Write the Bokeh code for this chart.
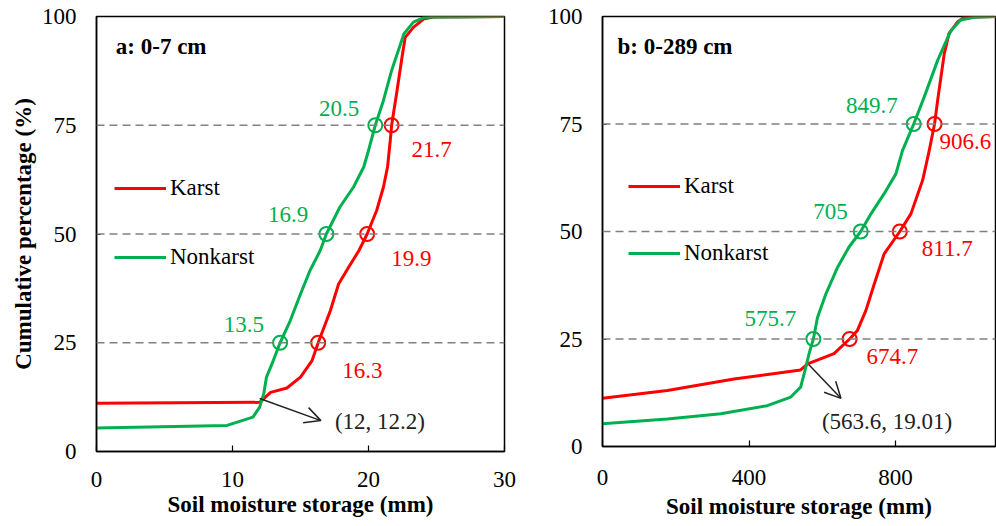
import numpy as np
from bokeh.plotting import figure
from bokeh.layouts import row
from bokeh.models import (ColumnDataSource, Legend, LegendItem, Arrow, OpenHead,
                          FixedTicker, Span, Label, Title)
from bokeh.embed import file_html
from bokeh.resources import INLINE
from bokeh.core.properties import value

# ---------------- data ----------------
# Panel a: 0-7 cm
a_karst_x = [0, 12.0, 12.8, 14.0, 15.0, 15.85, 16.3, 17.2, 17.8, 18.55, 19.3, 19.9, 20.6,
             21.1, 21.4, 21.6, 21.7, 22.1, 22.5, 22.7, 23.3, 24.1, 24.8, 30]
a_karst_y = [11.1, 11.3, 13.6, 14.6, 17.1, 20.9, 25, 32.4, 38.5, 42.4, 46.2, 50, 55.4,
             60.8, 65.4, 71.5, 75, 83, 91.4, 95.2, 97.5, 99.5, 99.9, 100]
a_nonkarst_x = [0, 9.6, 10.3, 11.5, 12.0, 12.3, 12.5, 13.0, 13.5, 14.25, 15.0, 15.7, 16.45,
                16.9, 17.9, 18.9, 19.65, 20.0, 20.5, 21.1, 21.7, 22.6, 23.3, 24.1, 30]
a_nonkarst_y = [5.4, 6.0, 6.7, 7.9, 10.2, 13.3, 17.1, 20.9, 25, 30.1, 36.2, 41.6, 46.2,
                50, 56.2, 60.8, 65.4, 69.2, 75, 80.7, 87.6, 96, 98.7, 99.8, 100]

# Panel b: 0-289 cm
b_karst_x = [0, 177, 359, 541, 560, 632, 674.7, 696, 719, 742, 769, 811.7, 842, 874,
             892, 906.6, 915, 933, 946, 969, 987, 1080]
b_karst_y = [11.2, 13.0, 15.7, 17.8, 19.2, 21.6, 25, 27, 31.6, 37.8, 44.8, 50, 54.1, 61.9,
             68.8, 75, 80.5, 91.3, 96, 98.7, 99.8, 100]
b_nonkarst_x = [0, 177, 323, 450, 514, 541, 555, 564, 575.7, 587, 610, 642, 673, 705,
                733, 769, 801, 819, 849.7, 878, 915, 951, 978, 1015, 1080]
b_nonkarst_y = [5.3, 6.4, 7.6, 9.5, 11.5, 13.8, 18.4, 21.6, 25, 30, 35.5, 41.7, 46.4, 50,
                54.1, 58.8, 63.4, 68.8, 75, 81.2, 89.8, 96.7, 99.2, 99.8, 100]

quartiles = [25, 50, 75]
a_karst_q = [16.3, 19.9, 21.7]
a_nonkarst_q = [13.5, 16.9, 20.5]
b_karst_q = [674.7, 811.7, 906.6]
b_nonkarst_q = [575.7, 705, 849.7]
a_cross = (12, 12.2)
b_cross = (563.6, 19.01)

a_ticks_x = [0, 10, 20, 30]
b_ticks_x = [0, 400, 800]
ticks_y = [0, 25, 50, 75, 100]

RED = "#FF0000"
GREEN = "#00B050"
FONT = "Liberation Serif"
FS = "23px"


def make_panel(title, kx, ky, nx, ny, kq, nq, cross, xticks, xend,
               fw, fh, mb_left, mb_right, show_ylabel,
               k_off, n_off, cross_end, cross_txt_off, title_pos, legend_loc, spacing,
               xl_standoff, xt_standoff):
    p = figure(frame_width=fw, frame_height=fh, x_range=(0, xend), y_range=(0, 100),
               output_backend="svg", toolbar_location=None,
               min_border_left=mb_left, min_border_right=mb_right,
               min_border_top=16, min_border_bottom=60,
               background_fill_color="white", border_fill_color="white")
    p.grid.visible = False
    p.outline_line_color = "black"
    p.outline_line_width = 1.5
    p.outline_line_alpha = 1

    for ax in (p.xaxis[0], p.yaxis[0]):
        ax.axis_line_color = "black"
        ax.axis_line_width = 1.5
        ax.major_tick_line_color = "black"
        ax.major_tick_line_width = 1.2
        ax.major_tick_out = 0
        ax.minor_tick_line_color = None
        ax.major_label_text_font = FONT
        ax.major_label_text_font_size = FS
        ax.major_label_text_color = "black"
        ax.axis_label_text_font = FONT
        ax.axis_label_text_font_size = FS
        ax.axis_label_text_font_style = "bold"
        ax.axis_label_text_color = "black"
    p.xaxis[0].ticker = FixedTicker(ticks=xticks)
    p.yaxis[0].ticker = FixedTicker(ticks=ticks_y)
    p.xaxis[0].major_tick_in = 6
    p.yaxis[0].major_tick_in = 4
    p.xaxis[0].major_label_standoff = xt_standoff
    p.yaxis[0].major_label_standoff = 20
    p.xaxis[0].axis_label = "Soil moisture storage (mm)"
    p.xaxis[0].axis_label_standoff = xl_standoff
    if show_ylabel:
        p.add_layout(Title(text="Cumulative percentage (%)", align="center",
                           offset=-13, standoff=6,
                           text_font=FONT, text_font_size=FS, text_font_style="bold",
                           text_color="black"), "left")

    for q in quartiles:
        p.add_layout(Span(location=q, dimension="width", line_color="#808080",
                          line_width=1.5, line_dash="8 5"))

    rk = p.line(kx, ky, line_color=RED, line_width=3, line_join="round")
    rn = p.line(nx, ny, line_color=GREEN, line_width=3, line_join="round")

    p.scatter(kq, quartiles, marker="circle", size=14, fill_color=None,
              line_color=RED, line_width=2)
    p.scatter(nq, quartiles, marker="circle", size=14, fill_color=None,
              line_color=GREEN, line_width=2)

    ksrc = ColumnDataSource(dict(x=kq, y=quartiles, t=[f"{v:g}" for v in kq],
                                 dx=[o[0] for o in k_off], dy=[o[1] for o in k_off]))
    nsrc = ColumnDataSource(dict(x=nq, y=quartiles, t=[f"{v:g}" for v in nq],
                                 dx=[o[0] for o in n_off], dy=[o[1] for o in n_off]))
    p.text(x="x", y="y", text="t", x_offset="dx", y_offset="dy", source=ksrc,
           text_color=RED, text_font=value(FONT), text_font_size=FS,
           text_align="left", text_baseline="middle")
    p.text(x="x", y="y", text="t", x_offset="dx", y_offset="dy", source=nsrc,
           text_color=GREEN, text_font=value(FONT), text_font_size=FS,
           text_align="right", text_baseline="middle")

    p.add_layout(Arrow(end=OpenHead(size=16, line_width=1.5, line_color="#222222"),
                       x_start=cross[0], y_start=cross[1],
                       x_end=cross_end[0], y_end=cross_end[1],
                       line_width=1.5, line_color="#222222"))
    p.text(x=[cross_end[0]], y=[cross_end[1]], text=[f"({cross[0]:g}, {cross[1]:g})"],
           x_offset=cross_txt_off[0], y_offset=cross_txt_off[1],
           text_color="#222222", text_font=value(FONT), text_font_size=FS,
           text_align="left", text_baseline="middle")

    p.add_layout(Label(x=title_pos[0], y=title_pos[1], text=title,
                       text_font=FONT, text_font_size=FS, text_font_style="bold",
                       text_color="black", text_baseline="middle", text_align="left"))

    legend = Legend(items=[LegendItem(label="Karst", renderers=[rk]),
                           LegendItem(label="Nonkarst", renderers=[rn])],
                    location=legend_loc, orientation="vertical",
                    padding=0, margin=0, spacing=spacing,
                    glyph_width=52, glyph_height=26, label_height=26,
                    label_standoff=4, border_line_color=None,
                    background_fill_alpha=0,
                    label_text_font=FONT, label_text_font_size=FS,
                    label_text_color="black")
    p.add_layout(legend, "center")
    return p


pa = make_panel("a: 0-7 cm", a_karst_x, a_karst_y, a_nonkarst_x, a_nonkarst_y,
                a_karst_q, a_nonkarst_q, a_cross, a_ticks_x, 30,
                fw=408, fh=435, mb_left=96, mb_right=16, show_ylabel=True,
                k_off=[(24, 28), (24, 24), (20, 24)],
                n_off=[(-16, -18), (-18, -20), (-16, -17)],
                cross_end=(16.5, 7.1), cross_txt_off=(14, 1),
                title_pos=(1.42, 93.1), legend_loc=(18, 181), spacing=43,
                xl_standoff=2, xt_standoff=20)

pb = make_panel("b: 0-289 cm", b_karst_x, b_karst_y, b_nonkarst_x, b_nonkarst_y,
                b_karst_q, b_nonkarst_q, b_cross, b_ticks_x, 1073,
                fw=393, fh=430, mb_left=82, mb_right=1, show_ylabel=False,
                k_off=[(17, 17), (22, 17), (5, 17)],
                n_off=[(-17, -21), (-13, -20), (-16, -19)],
                cross_end=(651, 11.2), cross_txt_off=(-19, 23),
                title_pos=(41, 93.1), legend_loc=(26, 180), spacing=41,
                xl_standoff=6, xt_standoff=23)

layout = row(pa, pb)
open("out.html", "w").write(file_html(layout, INLINE))
